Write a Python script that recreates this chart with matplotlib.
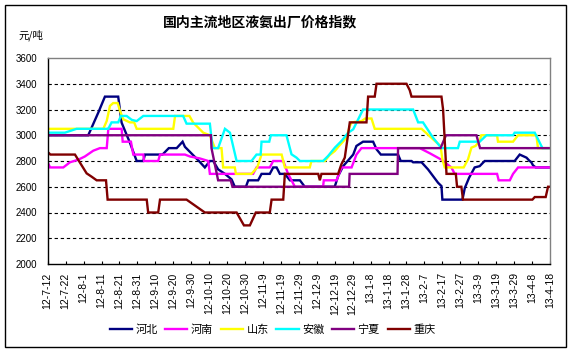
import matplotlib
matplotlib.use("Agg")
import matplotlib.pyplot as plt
from matplotlib.patches import Rectangle

plt.rcParams['font.family'] = ['Noto Sans CJK SC', 'DejaVu Sans']

title = "国内主流地区液氨出厂价格指数"
unit = "元/吨"

tick_labels = ["12-7-12", "12-7-22", "12-8-1", "12-8-11", "12-8-21", "12-8-31",
               "12-9-10", "12-9-20", "12-9-30", "12-10-10", "12-10-20", "12-10-30",
               "12-11-9", "12-11-19", "12-11-29", "12-12-9", "12-12-19", "12-12-29",
               "13-1-8", "13-1-18", "13-1-28", "13-2-7", "13-2-17", "13-2-27",
               "13-3-9", "13-3-19", "13-3-29", "13-4-8", "13-4-18"]
tick_days = [i * 10 for i in range(len(tick_labels))]
y_ticks = [2000, 2200, 2400, 2600, 2800, 3000, 3200, 3400, 3600]

names = ["河北", "河南", "山东", "安徽", "宁夏", "重庆"]
colors = ["#000080", "#FF00FF", "#FFFF00", "#00FFFF", "#800080", "#800000"]

# day offsets from 12-7-12 and values (breakpoints)
hebei_days = [0, 22.6, 28.2, 31.9, 39.3, 41.2, 45.8, 49.6, 53.3, 54.2, 64.0, 67.5, 71.9, 75.2,
              76.5, 84.3, 87.6, 90.4, 92.3, 95, 98.8, 102.5, 104.3, 110.5, 111.8, 117.3, 119.2,
              123.8, 125.7, 127.6, 129.4, 132.2, 135, 140.6, 143.3, 160, 161.9, 164.7, 170.3,
              172.1, 175.8, 181.4, 183.3, 185.7, 195.3, 196.8, 202.8, 203.7, 208.4, 212, 217.6,
              219.5, 220, 231.2, 232.5, 234.9, 238, 240.8, 243.6, 260.3, 263.1, 266.9, 268.3,
              269.6, 270.5, 272, 280]
hebei_vals = [3000, 3000, 3176, 3300, 3300, 3098, 2943, 2800, 2800, 2850, 2850, 2900, 2900, 2950,
              2910, 2800, 2750, 2800, 2800, 2735, 2700, 2657, 2600, 2600, 2650, 2650, 2700,
              2700, 2750, 2750, 2700, 2700, 2650, 2650, 2600, 2600, 2683, 2760, 2850,
              2917, 2950, 2950, 2891, 2850, 2850, 2800, 2800, 2790, 2790, 2735, 2631,
              2605, 2500, 2500, 2590, 2670, 2750, 2760, 2800, 2800, 2850, 2826, 2805,
              2790, 2767, 2750, 2750]

henan_days = [0, 1.3, 8.7, 12.4, 17, 20.7, 25.4, 29.1, 32.9, 33.8, 41.2, 41.8, 46.4, 47.7, 53.3,
              53.7, 61.6, 62.6, 76.5, 79.3, 84.8, 89.5, 90.4, 114.5, 116.4, 123.8, 125.7, 131.3,
              134, 137.8, 153.5, 153.9, 161, 163.8, 169.4, 172.1, 174.9, 207.4, 213, 219.5, 225,
              226.9, 250.5, 251.4, 257.6, 259.4, 262.2, 280]
henan_vals = [2790, 2750, 2750, 2790, 2810, 2835, 2880, 2900, 2900, 3050, 3050, 2950, 2950, 2850, 2850,
              2800, 2800, 2850, 2850, 2835, 2820, 2800, 2700, 2700, 2750, 2750, 2800, 2800,
              2700, 2600, 2600, 2650, 2650, 2750, 2750, 2850, 2900, 2900, 2860, 2810, 2750,
              2700, 2700, 2650, 2650, 2700, 2750, 2750]

shandong_days = [0, 31, 32.9, 34.7, 36.5, 39, 40.3, 42.1, 45.8, 48.2, 49.6, 70, 71, 79, 81.1, 86.7,
                 90.4, 93.2, 96.9, 97.8, 104.3, 104.9, 113.6, 116.8, 119.2, 130.4, 132.2, 146.1,
                 147, 154.5, 157, 160.1, 161.9, 166.6, 168.4, 169.4, 175, 177, 180.5, 182.3,
                 208.4, 215.8, 219, 220, 221.3, 231.9, 234.3, 236.2, 238.5, 240.8, 241.7, 250.5,
                 251, 259.4, 262.2, 272.4, 273.3, 280]
shandong_vals = [3050, 3050, 3111, 3228, 3250, 3250, 3190, 3124, 3100, 3100, 3050, 3050, 3150, 3150, 3098, 3020,
                 3000, 2900, 2900, 2750, 2750, 2700, 2700, 2750, 2850, 2850, 2750, 2750,
                 2800, 2800, 2844, 2878, 2909, 2981, 3072, 3100, 3110, 3130, 3130, 3050,
                 3050, 2956, 2917, 2813, 2750, 2750, 2813, 2904, 2917, 2956, 3000, 3000,
                 2950, 2950, 3000, 3000, 2900, 2900]

anhui_days = [0, 9.6, 16.1, 33.8, 35.6, 39.3, 40.8, 44, 46.8, 49.6, 53.3, 75.5, 77.4, 90.4, 91.9,
              95, 98.8, 101.6, 105.3, 113.6, 116.4, 118.7, 119.2, 123.5, 124.4, 133.1, 135.9,
              138.7, 140.6, 153.5, 156.3, 160.1, 163.8, 167.5, 170.3, 175.8, 203.7, 206.5, 209.2,
              214.8, 219.5, 228.7, 229.7, 240.8, 244.6, 259.4, 260.3, 271.5, 275.8, 280]
anhui_vals = [3020, 3020, 3050, 3050, 3100, 3100, 3150, 3150, 3120, 3110, 3150, 3150, 3090, 3090, 2900,
              2900, 3050, 3020, 2800, 2800, 2850, 2850, 2950, 2950, 3000, 3000, 2852,
              2826, 2800, 2800, 2839, 2904, 2956, 3020, 3046, 3200, 3200, 3100, 3100,
              2981, 2900, 2900, 2950, 2950, 3000, 3000, 3020, 3020, 2900, 2900]

ningxia_days = [0, 91, 91.3, 95, 102, 103, 168, 168.3, 195, 195.3, 219, 222, 239, 241, 280]
ningxia_vals = [3000, 3000, 2900, 2650, 2650, 2600, 2600, 2700, 2700, 2900, 2900, 3000, 3000, 2900, 2900]

chongqing_days = [0, 1.5, 15.2, 18, 21.7, 24.5, 27.3, 32.5, 33.4, 55.2, 56, 61.6, 62.6, 77.4, 87.6,
                  105.3, 109.4, 112.7, 116, 123.8, 124.8, 131.3, 132.2, 150.8, 151.7, 152.6, 161.9,
                  163.7, 165.6, 168.4, 177.7, 178.6, 182.3, 183.3, 200, 201.8, 202.8, 219.5, 220.4,
                  222.3, 227.5, 228.2, 230.6, 231.5, 270.2, 271.5, 277.6, 278.9, 280]
chongqing_vals = [2870, 2850, 2850, 2787, 2704, 2678, 2650, 2650, 2500, 2500, 2400, 2400, 2500, 2500, 2400,
                  2400, 2300, 2300, 2400, 2400, 2500, 2500, 2700, 2700, 2650, 2700, 2700,
                  2774, 2826, 3100, 3100, 3300, 3300, 3400, 3400, 3350, 3300, 3300, 3200,
                  2700, 2700, 2600, 2600, 2500, 2500, 2520, 2520, 2600, 2600]

series = [(hebei_days, hebei_vals), (henan_days, henan_vals), (shandong_days, shandong_vals),
          (anhui_days, anhui_vals), (ningxia_days, ningxia_vals), (chongqing_days, chongqing_vals)]

W, H = 573, 353
fig = plt.figure(figsize=(W / 100, H / 100), dpi=100)
fig.patch.set_facecolor("white")

L, R, T, B = 47.7, 550, 58, 264
ax = fig.add_axes([L / W, 1 - B / H, (R - L) / W, (B - T) / H])

for y in y_ticks[1:-1]:
    ax.axhline(y, color="black", lw=0.8, linestyle=(0, (3, 2.5)), zorder=1)

for (d, v), n, c in zip(series, names, colors):
    ax.plot(d, v, color=c, lw=1.7, label=n, zorder=2, solid_joinstyle="miter")

ax.set_xlim(0, 280)
ax.set_ylim(2000, 3600)
ax.set_xticks(tick_days)
ax.set_xticklabels(tick_labels, rotation=90, va="top", ha="center",
                   fontsize=7.5, family=["Liberation Sans", "DejaVu Sans"])
ax.set_yticks(y_ticks)
ax.set_yticklabels([str(v) for v in y_ticks], fontsize=7,
                   family=["Liberation Sans", "DejaVu Sans"])
ax.tick_params(axis="y", length=0, pad=7.5)
ax.tick_params(axis="x", direction="in", length=2.4, width=0.8, pad=6)

for s in ["left", "bottom"]:
    ax.spines[s].set_color("black")
    ax.spines[s].set_linewidth(1.0)
for s in ["top", "right"]:
    ax.spines[s].set_color("#808080")
    ax.spines[s].set_linewidth(1.0)

fig.text(260 / W, 1 - 22.7 / H, title, ha="center", va="center", fontsize=10,
         fontweight="bold")
fig.text(18 / W, 1 - 35 / H, unit, ha="left", va="center", fontsize=7.5)

fig.legend(loc="center", bbox_to_anchor=(272.5 / W, 1 - 330 / H), ncol=6, frameon=False,
           fontsize=8, handlelength=2.0, handletextpad=0.3, columnspacing=0.7)

fig.add_artist(Rectangle((5 / W, 1 - 347 / H), 561 / W, 342 / H, transform=fig.transFigure,
                         fill=False, edgecolor="black", lw=1.0))

fig.savefig("out.png", dpi=100)
